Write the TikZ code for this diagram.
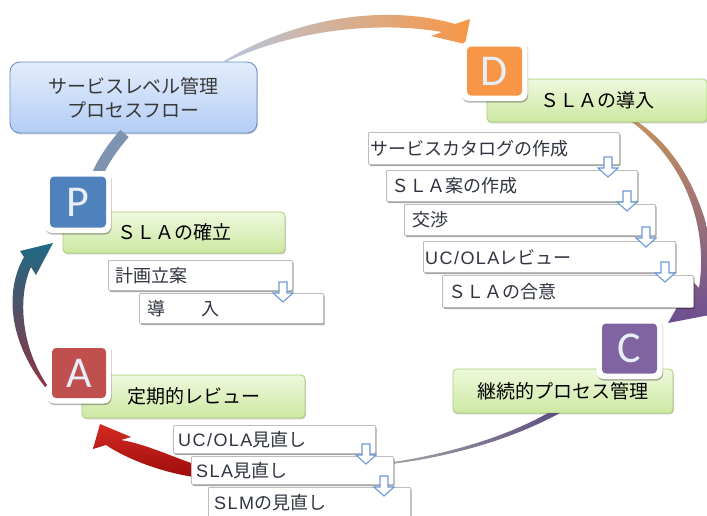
\documentclass[tikz,border=0pt]{standalone}
\usepackage{fontspec}
\setmainfont{Noto Sans CJK JP}
\newfontfamily\lat{Liberation Sans}[LetterSpace=8]
\newfontfamily\letterfont{Carlito}
\usetikzlibrary{shadows}
\definecolor{boxgray}{HTML}{BDBDBD}
\definecolor{textdark}{HTML}{2F3440}
\definecolor{greentop}{HTML}{EEF9DD}
\definecolor{greenbot}{HTML}{CDE8A2}
\definecolor{greenborder}{HTML}{A8CF72}
\definecolor{titletop}{HTML}{E3EDFC}
\definecolor{titlebot}{HTML}{B4CDF4}
\definecolor{titleborder}{HTML}{6690CF}
\definecolor{Pcol}{HTML}{4F81BD}
\definecolor{Dcol}{HTML}{F79646}
\definecolor{Ccol}{HTML}{8064A2}
\definecolor{Acol}{HTML}{C0504D}
\definecolor{letterfg}{HTML}{E8EEF8}
\definecolor{arrowblue}{HTML}{6A9AD6}
\definecolor{bandcol}{HTML}{7D93B0}
\definecolor{arcstart}{HTML}{B7C6DA}
\definecolor{teal1}{HTML}{1F6A86}
\definecolor{tealmid}{HTML}{9FB0B8}
\definecolor{brownred}{HTML}{8E3442}
\definecolor{redlight}{HTML}{D42A22}
\definecolor{reddark}{HTML}{9E0C0C}
\definecolor{purpletop}{HTML}{C4915E}
\definecolor{purplemid}{HTML}{C2A9BC}
\definecolor{purplebot}{HTML}{6C4E92}
\definecolor{purplethin}{HTML}{5E4C82}
\tikzset{
  subbox/.style={draw=boxgray, fill=white, line width=0.8pt, rounded corners=1pt,
    drop shadow={shadow xshift=1.2pt, shadow yshift=-1.6pt, fill=black, opacity=0.35}},
  subtext/.style={inner sep=0pt, font=\fontsize{18}{20}\selectfont, text=textdark},
  greenbox/.style={draw=greenborder, top color=greentop, bottom color=greenbot,
    rounded corners=4pt, line width=0.8pt, font=\fontsize{19}{22}\selectfont, text=black,
    drop shadow={shadow xshift=0.8pt, shadow yshift=-1.4pt, fill=black, opacity=0.2}},
  titlebox/.style={draw=titleborder, top color=titletop, bottom color=titlebot,
    rounded corners=10pt, line width=0.9pt, font=\fontsize{19}{24}\selectfont, text=black!78,
    align=center, drop shadow={shadow xshift=0.8pt, shadow yshift=-1.4pt, fill=black, opacity=0.2}},
  letterframe/.style={fill=white, rounded corners=7pt,
    drop shadow={shadow xshift=0.6pt, shadow yshift=-1.6pt, fill=black, opacity=0.3}},
  letterbox/.style={rounded corners=4pt, text=letterfg, inner sep=0pt,
    font=\letterfont\fontsize{44}{44}\selectfont},
  dnarrow/.pic={\draw[draw=arrowblue, fill=white, line width=1.1pt, line join=miter]
    (-4,0) -- (4,0) -- (4,11) -- (10,11) -- (0,20) -- (-10,11) -- (-4,11) -- cycle;}
}
\newcommand\mysub[7]{%
  \node[subbox, anchor=north west, minimum width=#4, minimum height=#5, inner sep=0pt] (#1) at (#2,#3) {};
  \node[subtext, anchor=west] (#1t) at ([xshift=#6]#1.west) {#7};}
\begin{document}
\begin{tikzpicture}[x=1pt,y=-1pt]
\useasboundingbox (0,0) rectangle (707,515);
\clip (0,0) rectangle (707,515);

% ---- big tapered arcs ----
% title -> D (top)
\shade[left color=arcstart, right color=Dcol]
  (224,61) .. controls (300,15) and (390,5) .. (455,24) -- (470,19) -- (465,44) -- (431,36)
  -- (442,32) .. controls (385,22) and (300,27) .. (226,62) -- cycle;
% D -> C (right side)
\shade[top color=purpletop, middle color=purplemid, bottom color=purplebot]
  (636,121) .. controls (690,155) and (720,235) .. (714,302) -- (725,312) -- (668,323)
  -- (692,281) -- (699,288) .. controls (708,230) and (688,165) .. (632,122) -- cycle;
% A -> P (left side)
\shade[top color=teal1, middle color=tealmid, bottom color=brownred]
  (45,387) .. controls (8,340) and (5,290) .. (24,257) -- (20,251) -- (53,243) -- (36,275)
  -- (31,267) .. controls (18,295) and (20,345) .. (47,385) -- cycle;
% C -> A (bottom red)
\shade[top color=redlight, bottom color=reddark]
  (194,464) .. controls (168,455) and (145,444) .. (121,440) -- (131,437) -- (100,424)
  -- (93,449) -- (106,445) .. controls (125,458) and (160,472) .. (194,477) -- cycle;

% ---- title ----
\node[titlebox, minimum width=247, minimum height=71] (title) at (133.5,97.5)
  {サービスレベル管理\\プロセスフロー};

% ---- green boxes ----
\node[greenbox, minimum width=222, minimum height=41] (kakuritsu) at (174,232.5) {ＳＬＡの確立};
\node[greenbox, minimum width=220, minimum height=43] (donyuu) at (597,100.5) {ＳＬＡの導入};
\node[greenbox, minimum width=223, minimum height=43] (teiki) at (193.5,396.5) {定期的レビュー};
\node[greenbox, minimum width=220, minimum height=44] (keizoku) at (563,391) {継続的プロセス管理};

% title -> P band and C -> A thin line
\draw[bandcol, line width=11pt] ([xshift=-9]title.south) .. controls (112,148) and (104,160) .. (98,173);
\shade[left color=black!35, right color=purplethin]
  (393,462) .. controls (440,455) and (500,440) .. (548,413) -- (560,413)
  .. controls (505,443) and (440,458) .. (393,463.8) -- cycle;

% ---- PDCA letter boxes ----
\node[letterframe, minimum width=66, minimum height=62] (Pf) at (78,202) {};
\node[letterbox, fill=Pcol, minimum width=56, minimum height=51] (P) at (Pf) {P};
\node[letterframe, minimum width=66, minimum height=60] (Df) at (494.5,71) {};
\node[letterbox, fill=Dcol, minimum width=55, minimum height=49] (D) at (Df) {D};
\node[letterframe, minimum width=66, minimum height=61] (Cf) at (629.5,348.5) {};
\node[letterbox, fill=Ccol, minimum width=55, minimum height=50] (C) at (Cf) {C};
\node[letterframe, minimum width=64, minimum height=61] (Af) at (79,373) {};
\node[letterbox, fill=Acol, minimum width=54, minimum height=50] (A) at (Af) {A};

% ---- sub item boxes ----
\mysub{cat}{368}{132}{251}{32}{2}{サービスカタログの作成}
\mysub{slaan}{386}{170}{251}{31}{5}{ＳＬＡ案の作成}
\mysub{kosho}{404}{204}{251}{31}{8}{交渉}
\mysub{ucola}{423}{241}{252}{31}{2}{{\lat UC/OLA}レビュー}
\mysub{goi}{442}{275}{251}{32}{6}{ＳＬＡの合意}
\mysub{keikaku}{108}{260}{184}{30}{7}{計画立案}
\mysub{dnyu}{139}{293}{184}{30}{8}{導　　入}
\mysub{ucmi}{173}{425}{202}{28}{5}{{\lat UC/OLA}見直し}
\mysub{slami}{191}{456}{202}{28}{5}{{\lat SLA}見直し}
\mysub{slm}{208}{487}{202}{31}{6}{{\lat SLM}の見直し}

% ---- small down arrows ----
\pic at (608,157) {dnarrow};
\pic at (627,191) {dnarrow};
\pic at (646,227) {dnarrow};
\pic at (665,262) {dnarrow};
\pic at (283,282) {dnarrow};
\pic at (366,444) {dnarrow};
\pic at (384,476) {dnarrow};
\end{tikzpicture}
\end{document}
